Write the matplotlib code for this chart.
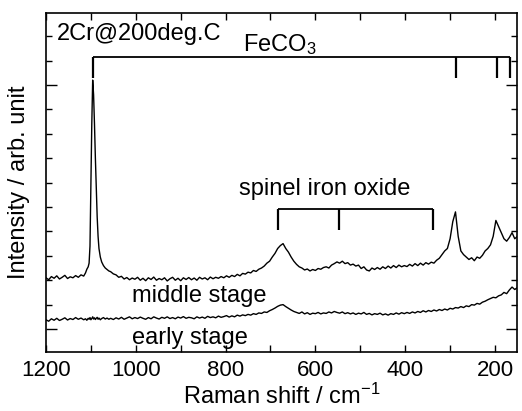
import matplotlib
matplotlib.use("Agg")
import matplotlib.pyplot as plt
from matplotlib.ticker import MultipleLocator, NullFormatter

plt.rcParams["font.family"] = ["Liberation Sans", "DejaVu Sans"]
plt.rcParams["mathtext.default"] = "regular"

# Raman shift grid (cm^-1), finer around the 1096 peak
wavenumber = [
    1200, 1194, 1188, 1182, 1176, 1170, 1164, 1158, 1152, 1146, 1140, 1134, 1128, 1122, 1116,
    1112, 1109, 1106, 1104, 1102, 1100, 1098, 1096, 1094, 1092, 1090, 1088, 1086, 1084, 1082,
    1079, 1076, 1072, 1068, 1064, 1060,
    1056, 1050, 1044, 1038, 1032, 1026, 1020, 1014, 1008, 1002,
    996, 990, 984, 978, 972, 966, 960, 954, 948, 942,
    936, 930, 924, 918, 912, 906, 900, 894, 888, 882,
    876, 870, 864, 858, 852, 846, 840, 834, 828, 822,
    816, 810, 804, 798, 792, 786, 780, 774, 768, 762,
    756, 750, 744, 738, 732, 726, 720, 714, 708, 702,
    696, 690, 684, 678, 672, 666, 660, 654, 648, 642,
    636, 630, 624, 618, 612, 606, 600, 594, 588, 582,
    576, 570, 564, 558, 552, 546, 540, 534, 528, 522,
    516, 510, 504, 498, 492, 486, 480, 474, 468, 462,
    456, 450, 444, 438, 432, 426, 420, 414, 408, 402,
    396, 390, 384, 378, 372, 366, 360, 354, 348, 342,
    336, 330, 324, 318, 312, 306, 300, 294, 288, 282,
    276, 270, 264, 258, 252, 246, 240, 234, 228, 222,
    216, 210, 204, 198, 192, 186, 180, 174, 168, 162,
    156, 150,
]

middle_stage = [
    2.10, 2.02, 2.15, 2.08, 2.18, 2.05, 2.12, 2.20, 2.07, 2.14, 2.10, 2.19, 2.12, 2.22, 2.17,
    2.30, 2.45, 2.55, 2.70, 3.40, 6.00, 8.40, 10.2, 9.60, 8.40, 7.00, 5.80, 4.60, 3.80, 3.30,
    2.95, 2.75, 2.60, 2.50, 2.44, 2.38,
    2.35, 2.26, 2.22, 2.12, 2.16, 2.05, 2.11, 2.02, 2.09, 2.04,
    2.12, 2.00, 2.08, 1.98, 2.10, 2.03, 2.13, 2.00, 2.07, 2.02,
    2.10, 1.97, 2.06, 2.12, 2.00, 2.08, 1.98, 2.10, 2.03, 2.11,
    2.02, 2.09, 2.00, 2.12, 2.05, 2.10, 2.02, 2.13, 2.06, 2.12,
    2.08, 2.15, 2.10, 2.18, 2.12, 2.20, 2.15, 2.24, 2.18, 2.28,
    2.25, 2.33, 2.30, 2.40, 2.36, 2.45, 2.50, 2.58, 2.70, 2.78,
    2.95, 3.10, 3.30, 3.42, 3.50, 3.30, 3.15, 2.95, 2.78, 2.65,
    2.55, 2.50, 2.42, 2.46, 2.38, 2.44, 2.40, 2.48, 2.45, 2.52,
    2.55, 2.50, 2.62, 2.68, 2.75, 2.70, 2.78, 2.68, 2.72, 2.62,
    2.66, 2.58, 2.62, 2.48, 2.55, 2.42, 2.38, 2.50, 2.44, 2.52,
    2.45, 2.55, 2.48, 2.58, 2.50, 2.60, 2.52, 2.62, 2.55, 2.60,
    2.56, 2.65, 2.58, 2.68, 2.60, 2.70, 2.62, 2.72, 2.66, 2.74,
    2.70, 2.82, 2.90, 3.05, 3.20, 3.30, 3.70, 4.40, 4.80, 3.80,
    3.20, 3.05, 2.95, 2.85, 2.92, 2.80, 2.95, 2.90, 3.02, 3.20,
    3.30, 3.45, 3.80, 4.45, 4.20, 3.95, 3.70, 3.60, 3.75, 3.95,
    3.70, 3.80,
]

early_stage = [
    0.38, 0.32, 0.42, 0.36, 0.44, 0.35, 0.40, 0.46, 0.37, 0.43, 0.39, 0.47, 0.40, 0.45, 0.38,
    0.42, 0.36, 0.44, 0.40, 0.47, 0.38, 0.43, 0.50, 0.41, 0.46, 0.39, 0.44, 0.48, 0.40, 0.45,
    0.38, 0.43, 0.47, 0.41, 0.45, 0.40,
    0.44, 0.39, 0.46, 0.41, 0.48, 0.40, 0.45, 0.50, 0.42, 0.47,
    0.43, 0.49, 0.44, 0.40, 0.47, 0.42, 0.50, 0.45, 0.41, 0.48,
    0.44, 0.50, 0.43, 0.47, 0.42, 0.49, 0.45, 0.51, 0.44, 0.48,
    0.46, 0.42, 0.50, 0.45, 0.49, 0.44, 0.52, 0.47, 0.50, 0.46,
    0.53, 0.48, 0.51, 0.55, 0.49, 0.54, 0.50, 0.57, 0.53, 0.58,
    0.55, 0.60, 0.57, 0.63, 0.60, 0.66, 0.64, 0.70, 0.68, 0.75,
    0.80, 0.86, 0.93, 0.98, 1.00, 0.92, 0.85, 0.78, 0.72, 0.68,
    0.64, 0.70, 0.62, 0.67, 0.60, 0.65, 0.63, 0.68, 0.62, 0.66,
    0.64, 0.70, 0.66, 0.72, 0.68, 0.65, 0.70, 0.63, 0.67, 0.62,
    0.66, 0.60, 0.65, 0.62, 0.68, 0.60, 0.64, 0.58, 0.63, 0.60,
    0.65, 0.58, 0.62, 0.57, 0.63, 0.60, 0.66, 0.61, 0.67, 0.63,
    0.68, 0.64, 0.70, 0.66, 0.72, 0.68, 0.75, 0.70, 0.76, 0.72,
    0.78, 0.74, 0.80, 0.76, 0.82, 0.78, 0.85, 0.82, 0.88, 0.86,
    0.92, 0.88, 0.95, 0.92, 1.00, 0.98, 1.05, 1.02, 1.10, 1.14,
    1.20, 1.25, 1.30, 1.28, 1.36, 1.40, 1.50, 1.45, 1.60, 1.72,
    1.62, 1.70,
]

feco3_peaks = [1096, 287, 196, 167]
spinel_peaks = [683, 547, 338]

fig = plt.figure(figsize=(5.22, 4.11), dpi=100)
ax = fig.add_axes([0.0881, 0.1436, 0.9023, 0.8248])

ax.plot(wavenumber, middle_stage, color="black", lw=1.0)
ax.plot(wavenumber, early_stage, color="black", lw=1.0)

# peak assignment brackets
def bracket(peaks, y_top, y_bot):
    ax.plot([max(peaks), min(peaks)], [y_top, y_top], color="black", lw=1.3,
            solid_capstyle="butt")
    for p in peaks:
        ax.plot([p, p], [y_top, y_bot], color="black", lw=1.6, solid_capstyle="butt")

bracket(feco3_peaks, 11.15, 10.3)
bracket(spinel_peaks, 4.92, 4.06)

ax.text(761, 11.39, "FeCO$_3$", fontsize=17, ha="left", va="baseline")
ax.text(770, 5.49, "spinel iron oxide", fontsize=17, ha="left", va="baseline")
ax.text(1175, 11.84, "2Cr@200deg.C", fontsize=17, ha="left", va="baseline")
ax.text(1008, 1.11, "middle stage", fontsize=17, ha="left", va="baseline")
ax.text(1008, -0.61, "early stage", fontsize=17, ha="left", va="baseline")

ax.set_xlim(1200, 151)
ax.set_ylim(-0.94, 12.95)

ax.xaxis.set_major_locator(MultipleLocator(200))
ax.xaxis.set_minor_locator(MultipleLocator(100))
ax.yaxis.set_major_locator(MultipleLocator(10))
ax.yaxis.set_minor_locator(MultipleLocator(1))
ax.yaxis.set_major_formatter(NullFormatter())

ax.tick_params(axis="both", which="both", direction="in", top=True, right=True, width=1.0)
ax.tick_params(axis="x", which="major", length=5, labelsize=16, pad=6)
ax.tick_params(axis="x", which="minor", length=5)
ax.tick_params(axis="y", which="major", length=8)
ax.tick_params(axis="y", which="minor", length=4)
for s in ax.spines.values():
    s.set_linewidth(1.2)

ax.set_xlabel("Raman shift / cm$^{-1}$", fontsize=17, labelpad=2)
ax.set_ylabel("Intensity / arb. unit", fontsize=17, labelpad=8)

fig.savefig("out.png", dpi=100)
